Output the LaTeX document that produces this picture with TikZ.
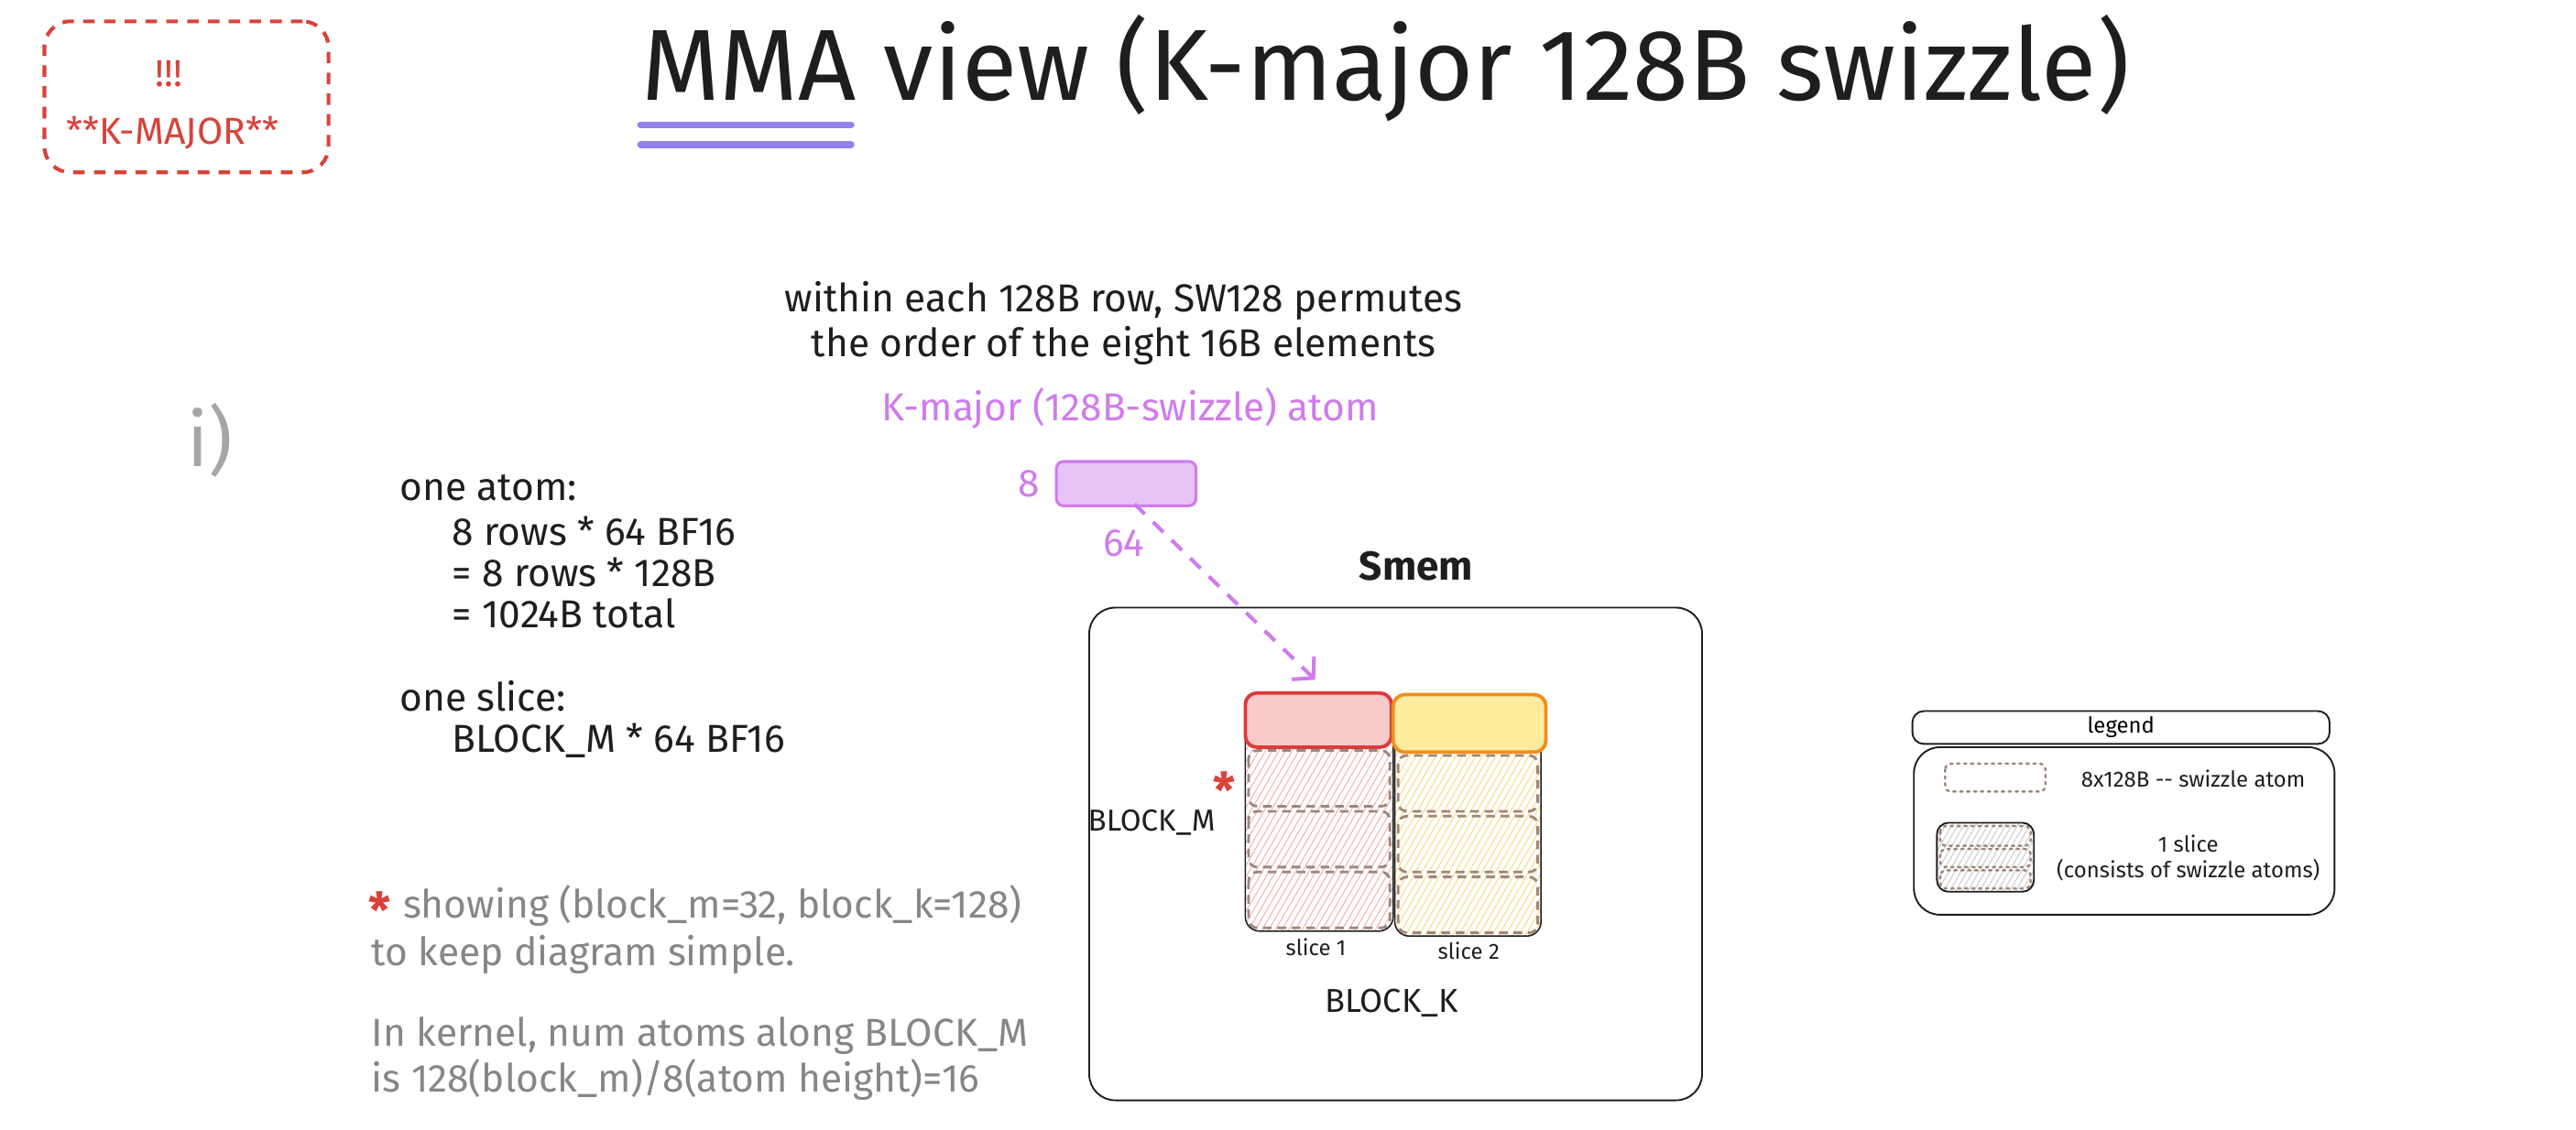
\documentclass[tikz,border=0pt]{standalone}
\usepackage{fontspec}
\setmainfont{Fira Sans}
\usetikzlibrary{arrows.meta,patterns.meta,calc}
\definecolor{ink}{HTML}{1E1E1E}
\definecolor{graytxt}{HTML}{868686}
\definecolor{igray}{HTML}{A6A6A6}
\definecolor{kred}{HTML}{D8423A}
\definecolor{uline}{HTML}{9381EE}
\definecolor{grape}{HTML}{D07BEF}
\definecolor{atomfill}{HTML}{E8C3F6}
\definecolor{sonefill}{HTML}{F8CACA}
\definecolor{sonestroke}{HTML}{DC3A3A}
\definecolor{stwofill}{HTML}{FDEB9E}
\definecolor{stwostroke}{HTML}{EE8F1E}
\definecolor{brownd}{HTML}{A08579}
\definecolor{hatchred}{HTML}{F3B5B5}
\definecolor{hatchyel}{HTML}{F6E08C}
\definecolor{hatchgray}{HTML}{C8C8C8}
\tikzset{
  bodytxt/.style={font=\fontsize{13.5}{16}\selectfont, inner sep=0pt, text=ink, anchor=base west},
  graytext/.style={bodytxt, text=graytxt},
  smalltxt/.style={font=\fontsize{7.6}{9}\selectfont, inner sep=0pt, text=ink},
  redstar/.style={font=\fontsize{17}{17}\selectfont\bfseries, inner sep=0pt, text=kred},
  titletxt/.style={font=\fontsize{35}{40}\selectfont, inner sep=0pt, text=ink, anchor=base west},
  kboxstyle/.style={draw=kred, line width=1.3pt, dash pattern=on 4pt off 3.2pt, rounded corners=9pt, inner sep=0pt},
  atomstyle/.style={draw=grape, fill=atomfill, line width=1pt, rounded corners=2.5pt, inner sep=0pt},
  sliceone/.style={draw=sonestroke, fill=sonefill, line width=1.2pt, rounded corners=4pt, inner sep=0pt},
  slicetwo/.style={draw=stwostroke, fill=stwofill, line width=1.2pt, rounded corners=4pt, inner sep=0pt},
  slicebody/.style={draw=ink, line width=0.5pt, rounded corners=5pt},
  atomdash/.style={draw=brownd, line width=0.9pt, dash pattern=on 3pt off 2pt, rounded corners=3pt},
  atomdot/.style={draw=brownd, line width=0.8pt, dash pattern=on 0.8pt off 1.6pt, line cap=round, rounded corners=2pt},
  frame/.style={draw=ink, line width=0.6pt},
  arr/.style={draw=grape, line width=1.3pt, dash pattern=on 5pt off 4pt, -{Straight Barb[length=5pt,width=11pt]}},
}
\begin{document}
\begin{tikzpicture}[x=0.02cm,y=-0.02cm]
\fill[white] (0,0) rectangle (1568,688);
\useasboundingbox (0,0) rectangle (1568,688);

% K-major tag
\node[kboxstyle, minimum width=3.46cm, minimum height=1.84cm] (kbox) at (113.5,59) {};
\node[font=\fontsize{13}{15}\selectfont, text=kred, inner sep=0pt] (bang) at (103,45) {!!!};
\node[font=\fontsize{13}{15}\selectfont, text=kred, inner sep=0pt] (kmajor) at (105,81) {**K-MAJOR**};

% title
\node[titletxt] (mma) at (390,61) {MMA};
\node[titletxt] (view) at ($(mma.base east)+(16,0)$) {view (K-major 128B swizzle)};
\draw[uline, line width=2.4pt, line cap=round] ($(mma.base west)+(0,15)$) -- ($(mma.base west)+(128,15)$);
\draw[uline, line width=2.4pt, line cap=round] ($(mma.base west)+(0,27)$) -- ($(mma.base west)+(128,27)$);

% i)
\node[font=\fontsize{26}{30}\selectfont, text=igray, inner sep=0pt] (roman) at (128,268) {i)};

% left notes
\node[bodytxt] (l1) at (243,305) {one atom:};
\node[bodytxt] (l2) at (275,332) {8 rows * 64 BF16};
\node[bodytxt] (l3) at (275,357) {= 8 rows * 128B};
\node[bodytxt] (l4) at (275,382) {= 1024B total};
\node[bodytxt] (l5) at (243,433) {one slice:};
\node[bodytxt] (l6) at (275,458) {BLOCK\_M * 64 BF16};

% gray notes
\node[redstar] (gstar) at (231,554) {*};
\node[graytext] (g1) at (245,559) {showing (block\_m=32, block\_k=128)};
\node[graytext] (g2) at (226,588) {to keep diagram simple.};
\node[graytext] (g3) at (226,637) {In kernel, num atoms along BLOCK\_M};
\node[graytext] (g4) at (226,665) {is 128(block\_m)/8(atom height)=16};

% center description
\node[bodytxt, anchor=base] (p1) at (684,190) {within each 128B row, SW128 permutes};
\node[bodytxt, anchor=base] (p2) at (684,217) {the order of the eight 16B elements};
\node[bodytxt, anchor=base, text=grape] (atomlbl) at (688,256) {K-major (128B-swizzle) atom};
\node[atomstyle, minimum width=1.70cm, minimum height=0.54cm] (atom) at (685.5,294.5) {};
\node[bodytxt, text=grape, anchor=east] (eight) at ($(atom.west)+(-9,0)$) {8};
\node[bodytxt, text=grape, anchor=center] (sixtyfour) at (684,331) {64};

% Smem
\node[font=\fontsize{14}{16}\selectfont\bfseries, inner sep=0pt, text=ink] (smem) at (862,345) {Smem};
\draw[frame, rounded corners=9pt] (663,370) rectangle (1036,670);

% slice 1
\fill[pattern={Lines[angle=60,distance=2pt,line width=0.35pt]}, pattern color=hatchred, rounded corners=5pt] (758,422) rectangle (848,567);
\draw[slicebody] (758,422) rectangle (848,567);
\draw[atomdash] (760,457) rectangle (846,491);
\draw[atomdash] (760,494) rectangle (846,528);
\draw[atomdash] (760,531) rectangle (846,565);
\node[sliceone, minimum width=1.78cm, minimum height=0.66cm] (sonetop) at (802.5,438.5) {};

% slice 2
\fill[pattern={Lines[angle=60,distance=2pt,line width=0.35pt]}, pattern color=hatchyel, rounded corners=5pt] (849,424) rectangle (938,570);
\draw[slicebody] (849,424) rectangle (938,570);
\draw[atomdash] (851,460) rectangle (936,494);
\draw[atomdash] (851,497) rectangle (936,531);
\draw[atomdash] (851,534) rectangle (936,568);
\node[slicetwo, minimum width=1.86cm, minimum height=0.70cm] (stwotop) at (894.5,440.5) {};

\node[smalltxt] (sonelbl) at (801,577) {slice 1};
\node[smalltxt] (stwolbl) at (894,579) {slice 2};
\node[font=\fontsize{11.5}{13}\selectfont, inner sep=0pt, text=ink] (blockk) at (847,611) {BLOCK\_K};
\node[font=\fontsize{10.5}{12}\selectfont, inner sep=0pt, text=ink] (blockm) at (701,501) {BLOCK\_M};
\node[redstar] (mstar) at (745,481) {*};

% arrow
\coordinate (tip) at ($(sonetop.north)+(-2,-7)$);
\draw[arr] ($(atom.south)+(5,-2)$) -- (tip);

% legend
\node[frame, rounded corners=4pt, minimum width=5.08cm, minimum height=0.40cm, inner sep=0pt, font=\fontsize{7.6}{9}\selectfont] (leghead) at (1291,443) {legend};
\draw[frame, rounded corners=9pt] (1165,455) rectangle (1421,557);
\draw[atomdot] (1184,465) rectangle (1245,482);
\node[smalltxt] (legatom) at (1335,474) {8x128B -{}- swizzle atom};
\fill[pattern={Lines[angle=60,distance=1.8pt,line width=0.3pt]}, pattern color=hatchgray, rounded corners=4pt] (1179,501) rectangle (1238,543);
\draw[draw=ink, line width=0.6pt, rounded corners=4pt] (1179,501) rectangle (1238,543);
\draw[atomdot] (1181,503) rectangle (1236,515);
\draw[atomdot] (1181,517) rectangle (1236,528);
\draw[atomdot] (1181,530) rectangle (1236,541);
\node[smalltxt] (legslice1) at (1332,514) {1 slice};
\node[smalltxt] (legslice2) at (1332,530) {(consists of swizzle atoms)};
\end{tikzpicture}
\end{document}
